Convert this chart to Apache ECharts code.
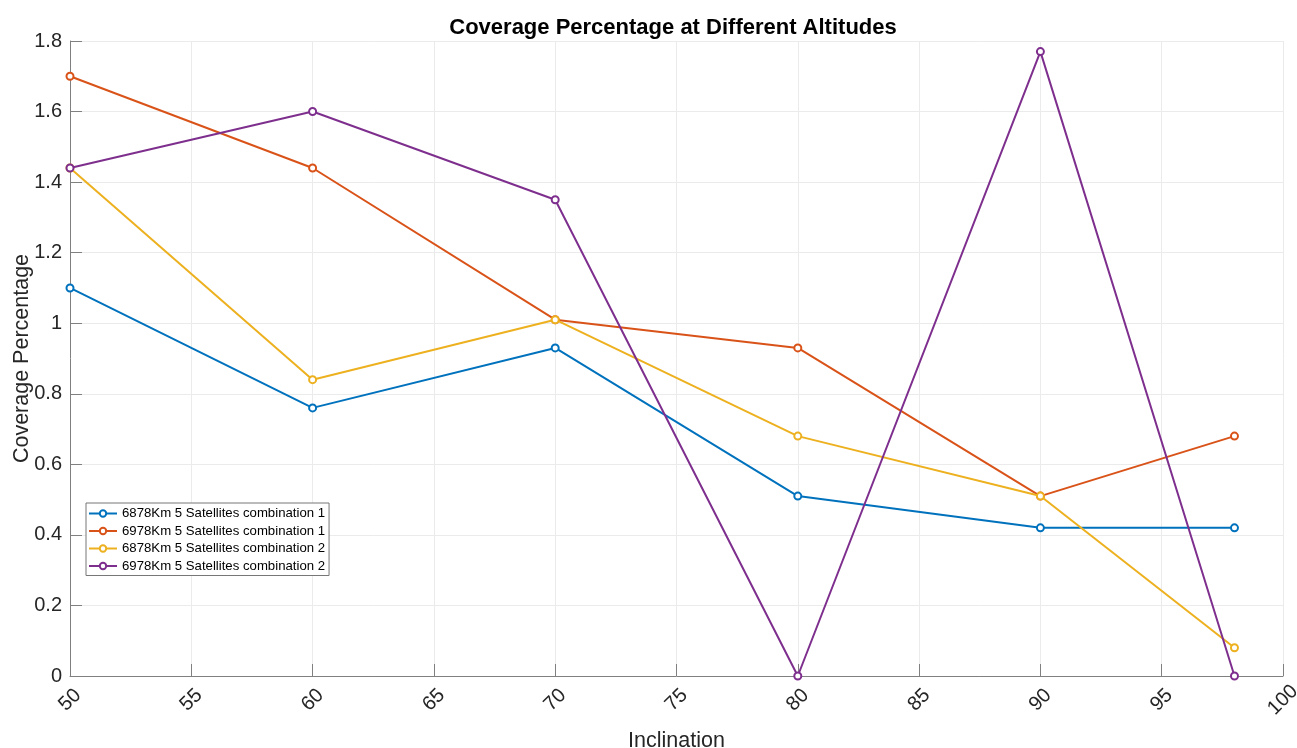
<!DOCTYPE html>
<html><head><meta charset="utf-8">
<script src="https://cdn.jsdelivr.net/npm/echarts@6/dist/echarts.min.js"></script>
<style>html,body{margin:0;padding:0;background:#fff}#c{width:1297px;height:748px}</style>
</head><body><div id="c"></div>
<script>
const inclination = [50, 60, 70, 80, 90, 98];
const s6878c1 = [1.10, 0.76, 0.93, 0.51, 0.42, 0.42];
const s6978c1 = [1.70, 1.44, 1.01, 0.93, 0.51, 0.68];
const s6878c2 = [1.44, 0.84, 1.01, 0.68, 0.51, 0.08];
const s6978c2 = [1.44, 1.60, 1.35, 0.00, 1.77, 0.00];
const seriesNames = ['6878Km 5 Satellites combination 1','6978Km 5 Satellites combination 1','6878Km 5 Satellites combination 2','6978Km 5 Satellites combination 2'];
const colors = ['#0072BD','#D95319','#EDB120','#7E2F8E'];
const allData = [s6878c1, s6978c1, s6878c2, s6978c2];
const font = 'Liberation Sans, Arial, sans-serif';
const chart = echarts.init(document.getElementById('c'));
chart.setOption({
  animation:false,
  backgroundColor:'#fff',
  title:{text:'Coverage Percentage at Different Altitudes',left:668,top:12,textAlign:'center',
    textStyle:{fontFamily:font,fontSize:22,fontWeight:'bold',color:'#000'}},
  grid:{left:70,right:14,top:41,bottom:72,outerBoundsMode:'none',containLabel:false},
  legend:{orient:'vertical',left:86,top:503,itemGap:4.5,itemWidth:28,itemHeight:8,
    backgroundColor:'#fff',borderColor:'#777',borderWidth:1,padding:[4,4,3,2],
    textStyle:{fontFamily:font,fontSize:13.2,color:'#000'},data:seriesNames},
  xAxis:{type:'value',min:50,max:100,interval:5,name:'Inclination',nameLocation:'middle',nameGap:54,
    nameMoveOverlap:false,
    nameTextStyle:{fontFamily:font,fontSize:21.5,color:'#262626'},
    axisLine:{show:true,lineStyle:{color:'#808080',width:1}},
    axisTick:{show:true,inside:true,length:12,lineStyle:{color:'#808080'}},
    axisLabel:{rotate:45,align:'center',verticalAlign:'middle',fontFamily:font,fontSize:20,color:'#262626',margin:24},
    splitLine:{show:true,lineStyle:{color:'#ebebeb'}}},
  yAxis:{type:'value',min:0,max:1.8,interval:0.2,name:'Coverage Percentage',nameLocation:'middle',nameGap:37,
    nameMoveOverlap:false,
    nameTextStyle:{fontFamily:font,fontSize:21.5,color:'#262626'},
    axisLine:{show:true,lineStyle:{color:'#808080',width:1}},
    axisTick:{show:true,inside:true,length:12,lineStyle:{color:'#808080'}},
    axisLabel:{fontFamily:font,fontSize:20,color:'#262626',margin:8,
      formatter:v=>String(Math.round(v*10)/10)},
    splitLine:{show:true,lineStyle:{color:'#ebebeb'}}},
  series: allData.map((d,i)=>({
    name:seriesNames[i],type:'line',
    data:inclination.map((x,j)=>[x,d[j]]),
    symbol:'emptyCircle',symbolSize:7,
    lineStyle:{width:2,color:colors[i]},
    itemStyle:{color:colors[i],borderWidth:2,borderColor:colors[i]},
    z:2+i
  }))
});
</script></body></html>
